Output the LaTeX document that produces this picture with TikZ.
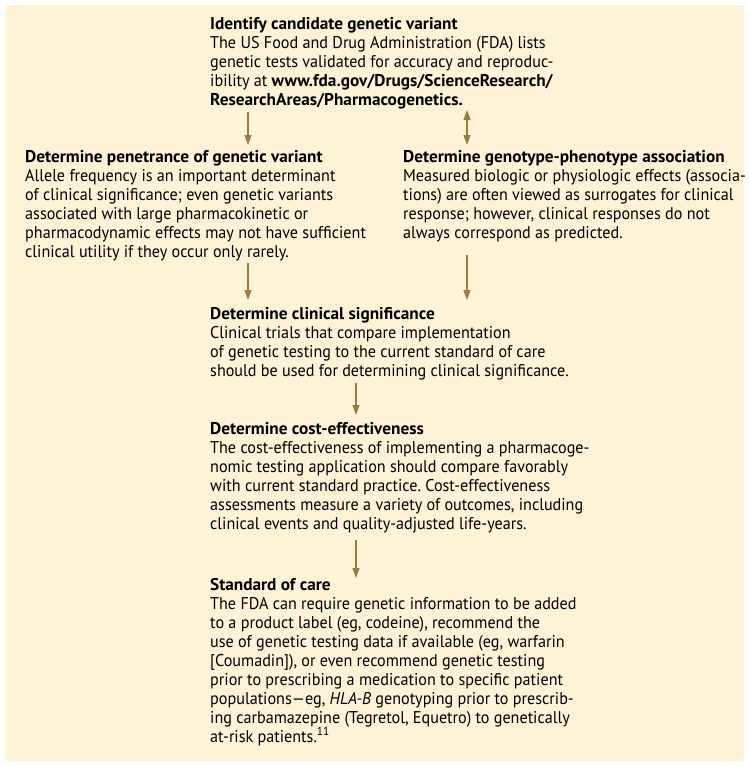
\documentclass[tikz,border=0pt]{standalone}
\usepackage{fontspec}
\setmainfont{PT Sans}[UprightFeatures={FakeStretch=0.95},BoldFeatures={FakeStretch=1.015},ItalicFeatures={FakeStretch=0.95}]
\usetikzlibrary{arrows.meta}
\definecolor{bg}{HTML}{FEF3D6}
\definecolor{arrc}{HTML}{9C7B40}
\frenchspacing
\begin{document}
\begin{tikzpicture}[x=1pt,y=-1pt,
  blk/.style={anchor=base west, align=left, inner sep=0pt, font=\fontsize{17}{19}\selectfont},
  arr/.style={draw=arrc, line width=1.4pt, -{Triangle[length=10pt,width=7pt]}},
  biarr/.style={draw=arrc, line width=1.4pt, {Triangle[length=10pt,width=7pt]}-{Triangle[length=10pt,width=7pt]}}]
\useasboundingbox (0,0) rectangle (749,766);
\fill[bg] (5,5) rectangle (744,761);

% anchor base = baseline of the last line
\node[blk] (top) at (210,105) {\textbf{Identify candidate genetic variant}\\
The US Food and Drug Administration (FDA) lists\\
genetic tests validated for accuracy and reproduc-\\
ibility at \textbf{www.fda.gov/Drugs/ScienceResearch/}\\
\textbf{ResearchAreas/Pharmacogenetics.}};

\node[blk] (pen) at (25,257) {\textbf{Determine penetrance of genetic variant}\\
Allele frequency is an important determinant\\
of clinical significance; even genetic variants\\
associated with large pharmacokinetic or\\
pharmacodynamic effects may not have sufficient\\
clinical utility if they occur only rarely.};

\node[blk] (gen) at (403,238) {\textbf{Determine genotype-phenotype association}\\
Measured biologic or physiologic effects (associa-\\
tions) are often viewed as surrogates for clinical\\
response; however, clinical responses do not\\
always correspond as predicted.};

\node[blk] (cli) at (210,376) {\textbf{Determine clinical significance}\\
Clinical trials that compare implementation\\
of genetic testing to the current standard of care\\
should be used for determining clinical significance.};

\node[blk] (cost) at (210,529) {\textbf{Determine cost-effectiveness}\\
The cost-effectiveness of implementing a pharmacoge-\\
nomic testing application should compare favorably\\
with current standard practice. Cost-effectiveness\\
assessments measure a variety of outcomes, including\\
clinical events and quality-adjusted life-years.};

\node[blk] (soc) at (210,742) {\textbf{Standard of care}\\
The FDA can require genetic information to be added\\
to a product label (eg, codeine), recommend the\\
use of genetic testing data if available (eg, warfarin\\
{[}Coumadin{]}), or even recommend genetic testing\\
prior to prescribing a medication to specific patient\\
populations—eg, \textit{HLA-B} genotyping prior to prescrib-\\
ing carbamazepine (Tegretol, Equetro) to genetically\\
at-risk patients.\textsuperscript{11}};

\coordinate (a1s) at (248,112); \coordinate (a1e) at (248,145);
\coordinate (a2s) at (467,110); \coordinate (a2e) at (467,145);
\coordinate (a3s) at (248,263); \coordinate (a3e) at (248,300);
\coordinate (a4s) at (467,255); \coordinate (a4e) at (467,300);
\coordinate (a5s) at (356,383); \coordinate (a5e) at (356,415);
\coordinate (a6s) at (356,540); \coordinate (a6e) at (356,578);

\draw[arr] (a1s) -- (a1e);
\draw[biarr] (a2s) -- (a2e);
\draw[arr] (a3s) -- (a3e);
\draw[arr] (a4s) -- (a4e);
\draw[arr] (a5s) -- (a5e);
\draw[arr] (a6s) -- (a6e);
\end{tikzpicture}
\end{document}
